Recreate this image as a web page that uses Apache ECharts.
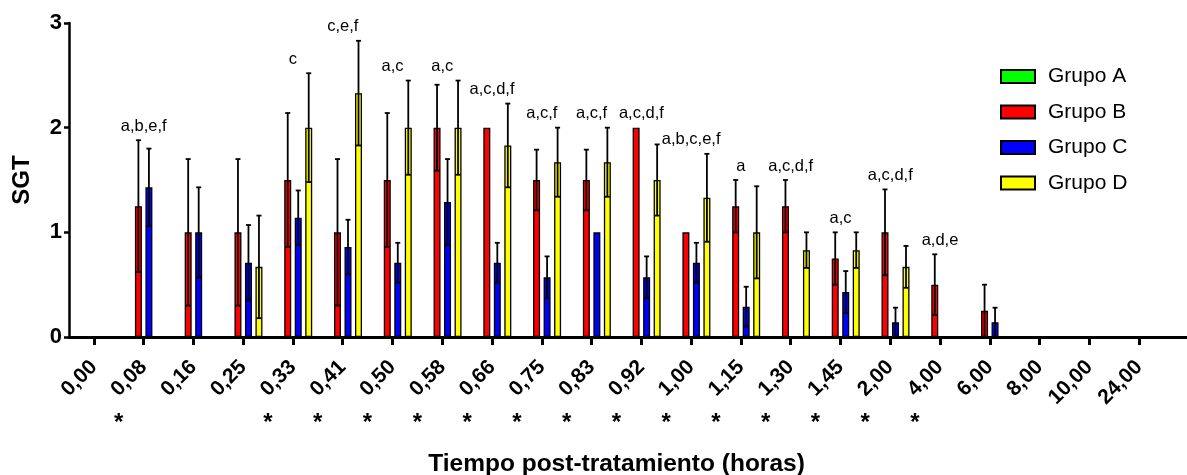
<!DOCTYPE html>
<html>
<head>
<meta charset="utf-8">
<script src="https://cdn.jsdelivr.net/npm/echarts@6/dist/echarts.min.js"></script>
<style>html,body{margin:0;padding:0;background:#fff;}#c{width:1187px;height:475px;}</style>
</head>
<body>
<div id="c"></div>
<script>
// ---- data ----
const categories = ['0,00','0,08','0,16','0,25','0,33','0,41','0,50','0,58','0,66','0,75','0,83','0,92','1,00','1,15','1,30','1,45','2,00','4,00','6,00','8,00','10,00','24,00'];
const groupNames = ['Grupo A','Grupo B','Grupo C','Grupo D'];
const grupoA = [null,null,null,null,null,null,null,null,null,null,null,null,null,null,null,null,null,null,null,null,null,null];
const sdA    = [0,0,0,0,0,0,0,0,0,0,0,0,0,0,0,0,0,0,0,0,0,0];
const grupoB = [null,1.25,1.0,1.0,1.5,1.0,1.5,2.0,2.0,1.5,1.5,2.0,1.0,1.25,1.25,0.75,1.0,0.5,0.25,null,null,null];
const sdB    = [0,0.63,0.70,0.70,0.64,0.70,0.64,0.41,0,0.29,0.29,0,0,0.25,0.25,0.25,0.41,0.29,0.25,0,0,0];
const grupoC = [null,1.43,1.0,0.71,1.14,0.86,0.71,1.29,0.71,0.57,1.0,0.57,0.71,0.29,null,0.43,0.14,null,0.14,null,null,null];
const sdC    = [0,0.37,0.43,0.36,0.26,0.26,0.19,0.41,0.19,0.20,0,0.20,0.19,0.19,0,0.20,0.14,0,0.14,0,0,0];
const grupoD = [null,null,null,0.67,2.0,2.33,2.0,2.0,1.83,1.67,1.67,1.5,1.33,1.0,0.83,0.83,0.67,null,null,null,null,null];
const sdD    = [0,0,0,0.49,0.52,0.50,0.45,0.45,0.40,0.33,0.33,0.34,0.42,0.44,0.17,0.17,0.20,0,0,0,0,0];
const annotations = ['','a,b,e,f','','','c','c,e,f','a,c','a,c','a,c,d,f','a,c,f','a,c,f','a,c,d,f','a,b,c,e,f','a','a,c,d,f','a,c','a,c,d,f','a,d,e','','','',''];
const significant = [0,1,0,0,1,1,1,1,1,1,1,1,1,1,1,1,1,1,0,0,0,0];
const yTicks = [0,1,2,3];

// ---- chart ----
const means = [grupoA, grupoB, grupoC, grupoD];
const sds = [sdA, sdB, sdC, sdD];
const colors = ['#00ff00','#ff0000','#0000ff','#ffff00'];
const FONT = '"Liberation Sans", Arial, sans-serif';
const BAR_W = 7, STEP = 10.5;

const series = [];
groupNames.forEach((name, g) => {
  series.push({
    name: name, type: 'bar', data: means[g], barWidth: BAR_W, barGap: '50%',
    itemStyle: {color: colors[g], borderColor: '#000', borderWidth: 1.3},
    xAxisIndex: 0, yAxisIndex: 0, z: 2
  });
});
groupNames.forEach((name, g) => {
  const offset = (g - 1.5) * STEP;
  const data = [];
  means[g].forEach((m, i) => { if (m != null && sds[g][i] > 0) data.push([i, m, sds[g][i]]); });
  series.push({
    type: 'custom', name: name + ' err', xAxisIndex: 0, yAxisIndex: 0, z: 5,
    encode: {x: 0, y: 1}, silent: true,
    data: data,
    renderItem: function (params, api) {
      const idx = api.value(0), m = api.value(1), s = api.value(2);
      const lo = api.coord([idx, m - s]);
      const hi = api.coord([idx, m + s]);
      const x = lo[0] + offset;
      const cw = 2.5;
      const st = {stroke: '#000', lineWidth: 1.8};
      return {type: 'group', children: [
        {type: 'line', shape: {x1: x, y1: lo[1], x2: x, y2: hi[1]}, style: st},
        {type: 'line', shape: {x1: x - cw, y1: hi[1], x2: x + cw, y2: hi[1]}, style: st},
        {type: 'line', shape: {x1: x - cw, y1: lo[1], x2: x + cw, y2: lo[1]}, style: st}
      ]};
    }
  });
});
// significance letters above each group
const annotData = [];
annotations.forEach((t, i) => {
  if (!t) return;
  let top = 0;
  means.forEach((arr, g) => { if (arr[i] != null) top = Math.max(top, arr[i] + sds[g][i]); });
  annotData.push({value: [i, top], label: {formatter: t}});
});
series.push({
  type: 'scatter', xAxisIndex: 0, yAxisIndex: 0, symbolSize: 1, z: 6, silent: true,
  itemStyle: {color: 'transparent'},
  label: {show: true, position: 'top', distance: 5, color: '#000', opacity: 1, fontSize: 16.5, fontFamily: FONT},
  data: annotData
});
// asterisks under the labels
const starData = [];
significant.forEach((s, i) => { if (s) starData.push([i, 0]); });
series.push({
  type: 'scatter', xAxisIndex: 0, yAxisIndex: 0, symbolSize: 1, z: 6, silent: true, clip: false,
  itemStyle: {color: 'transparent'},
  label: {show: true, position: 'inside', offset: [-25, 86], formatter: '*', color: '#000', opacity: 1, fontSize: 24, fontWeight: 'bold', fontFamily: FONT},
  data: starData
});

const option = {
  animation: false,
  backgroundColor: '#fff',
  legend: {
    data: groupNames, orient: 'vertical', left: 995, top: 61,
    itemWidth: 34, itemHeight: 13, itemGap: 14.5, icon: 'rect',
    textStyle: {fontSize: 21, color: '#000', fontFamily: FONT, padding: [0, 0, 0, 8]}
  },
  grid: [
    {left: 69, right: 23, top: 23, bottom: 138, outerBoundsMode: 'none', containLabel: false},
    {left: 69, right: 0, top: 23, bottom: 138, outerBoundsMode: 'none', containLabel: false}
  ],
  xAxis: [
    {
      type: 'category', gridIndex: 0, data: categories,
      axisLine: {show: true, lineStyle: {color: '#000', width: 3}},
      axisTick: {show: true, alignWithLabel: true, length: 8, lineStyle: {color: '#000', width: 3}},
      axisLabel: {interval: 0, rotate: 45, margin: 27, color: '#000', fontSize: 21, fontWeight: 'bold', fontFamily: FONT},
      name: 'Tiempo post-tratamiento (horas)', nameLocation: 'middle', nameGap: 115,
      nameTextStyle: {color: '#000', fontSize: 24.5, fontWeight: 'bold', fontFamily: FONT},
      splitLine: {show: false}
    },
    {
      type: 'value', gridIndex: 1, min: 0, max: 1,
      axisLine: {show: true, lineStyle: {color: '#000', width: 3}},
      axisTick: {show: false}, axisLabel: {show: false}, splitLine: {show: false}
    }
  ],
  yAxis: [
    {
      type: 'value', gridIndex: 0, min: yTicks[0], max: yTicks[yTicks.length - 1], interval: 1,
      axisLine: {show: true, lineStyle: {color: '#000', width: 2.5}},
      axisTick: {show: true, length: 5, lineStyle: {color: '#000', width: 2.5}},
      axisLabel: {margin: 7, color: '#000', fontSize: 22, fontWeight: 'bold', fontFamily: FONT},
      splitLine: {show: false},
      name: 'SGT', nameLocation: 'middle', nameGap: 35, nameRotate: 90,
      nameTextStyle: {color: '#000', fontSize: 24, fontWeight: 'bold', fontFamily: FONT}
    },
    {type: 'value', gridIndex: 1, show: false, min: 0, max: 1}
  ],
  series: series
};
const chart = echarts.init(document.getElementById('c'), null, {renderer: 'canvas'});
chart.setOption(option);
</script>
</body>
</html>
